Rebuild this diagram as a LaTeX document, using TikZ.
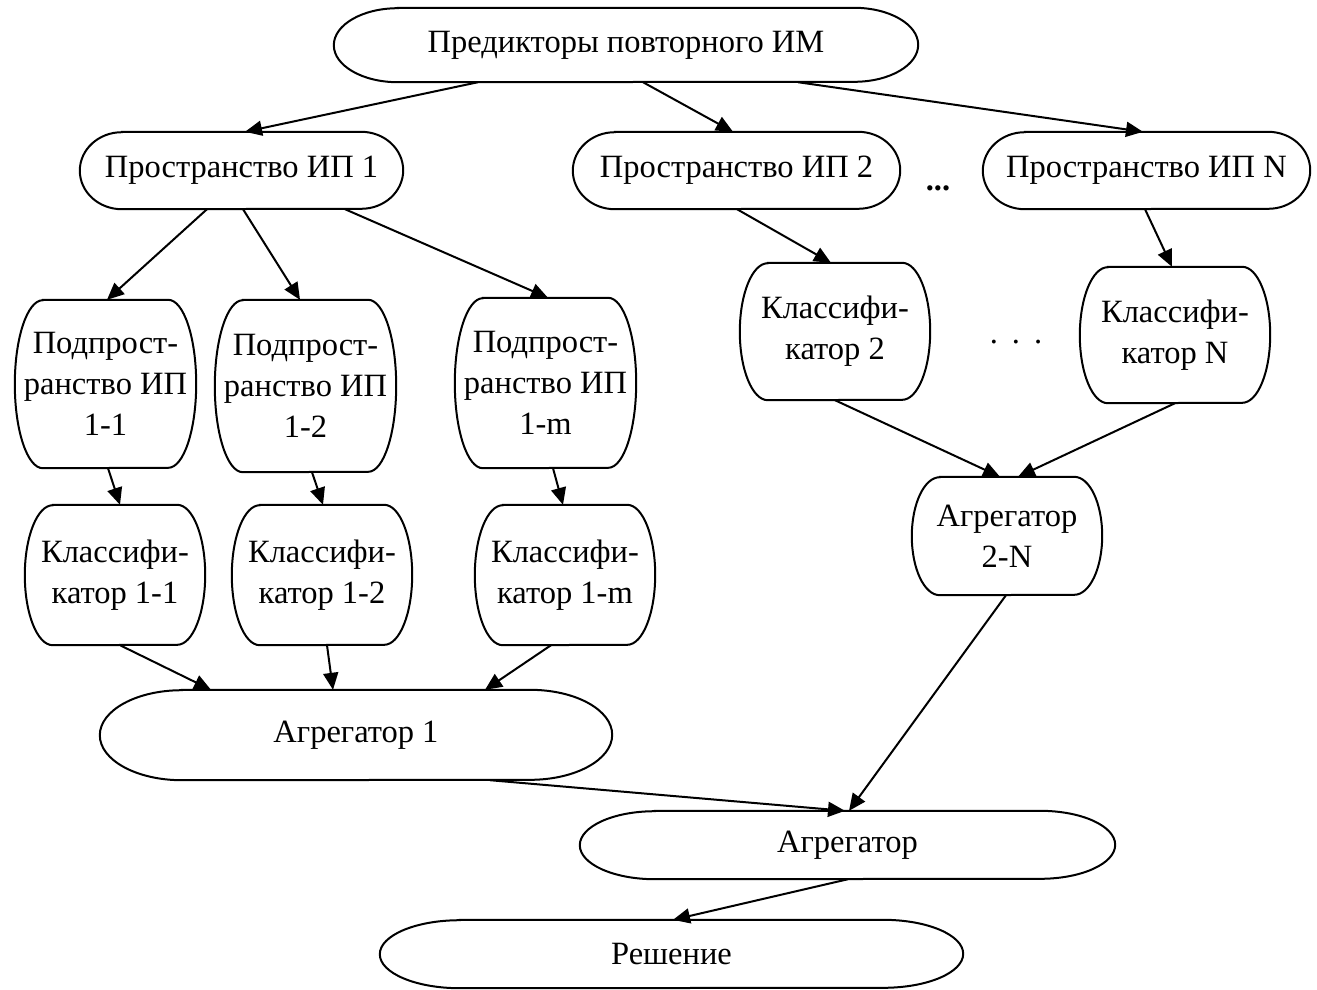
\documentclass[tikz,border=0pt]{standalone}
\usepackage{fontspec}
\setmainfont{Liberation Serif}
\usetikzlibrary{arrows.meta}
\tikzset{
  lbl/.style={inner sep=0pt, align=center, font=\fontsize{32.5}{41}\selectfont},
  outline/.style={line width=2pt, black},
  arr/.style={line width=2pt, -{Triangle[length=17pt,width=15pt]}},
}
\newcommand\tbox[7]{%
  \node[lbl, minimum width=#4pt, minimum height=#5pt] (#1) at (#2,#3) {#7};
  \draw[outline] ([xshift=#6pt]#1.north west) -- ([xshift=-#6pt]#1.north east)
    arc[start angle=90,end angle=-90,x radius=#6pt,y radius=#5pt/2]
    -- ([xshift=#6pt]#1.south west)
    arc[start angle=270,end angle=90,x radius=#6pt,y radius=#5pt/2] -- cycle;
}
\newcommand\conn[4]{\draw[arr] ([xshift=#2pt]#1.south) -- ([xshift=#4pt]#3.north);}
\begin{document}
\begin{tikzpicture}[x=1pt,y=-1pt]
\useasboundingbox (0,0) rectangle (1317,989);
\tbox{top}{626}{45}{584}{74}{64}{Предикторы повторного ИМ}
\tbox{ipa}{241.5}{170.5}{323}{77}{42}{Пространство ИП 1}
\tbox{ipb}{736.5}{170.5}{327}{77}{42}{Пространство ИП 2}
\tbox{ipn}{1146.5}{170.5}{327}{77}{42}{Пространство ИП N}
\tbox{paa}{105.5}{384}{181}{168}{28}{Подпрост-\\ранство ИП\\1-1}
\tbox{pab}{305.5}{386}{181}{172}{28}{Подпрост-\\ранство ИП\\1-2}
\tbox{pam}{545.5}{383}{181}{170}{28}{Подпрост-\\ранство ИП\\1-m}
\tbox{kaa}{115}{575}{180}{140}{28}{Классифи-\\катор 1-1}
\tbox{kab}{322}{575}{180}{140}{28}{Классифи-\\катор 1-2}
\tbox{kam}{565}{575}{180}{140}{28}{Классифи-\\катор 1-m}
\tbox{kb}{835}{331.5}{190}{137}{28}{Классифи-\\катор 2}
\tbox{kn}{1175}{335}{190}{136}{28}{Классифи-\\катор N}
\tbox{abn}{1007}{536}{190}{118}{28}{Агрегатор\\2-N}
\tbox{aa}{356}{735}{512}{90}{82}{Агрегатор 1}
\tbox{agg}{847.5}{845}{535}{68}{75}{Агрегатор}
\tbox{res}{671.5}{954}{583}{68}{80}{Решение}
\node[lbl, font=\fontsize{32.5}{41}\selectfont\bfseries] (dotsa) at (938,188) {...};
\node[lbl] (dotsb) at (1016,342) {.\hspace{14pt}.\hspace{14pt}.};
\conn{top}{-148}{ipa}{3.5}
\conn{top}{17}{ipb}{-3.5}
\conn{top}{172}{ipn}{-3.5}
\conn{ipa}{-34.5}{paa}{1.5}
\conn{ipa}{1.5}{pab}{-5.5}
\conn{ipa}{103.5}{pam}{2.5}
\conn{ipb}{0.5}{kb}{-4}
\conn{ipn}{-1.5}{kn}{-3}
\conn{paa}{2.5}{kaa}{5}
\conn{pab}{6.5}{kab}{1}
\conn{pam}{7.5}{kam}{-2}
\conn{kb}{0}{abn}{-7}
\conn{kn}{0}{abn}{11}
\conn{kaa}{5}{aa}{-145}
\conn{kab}{5}{aa}{-23}
\conn{kam}{-14}{aa}{129}
\conn{abn}{-1}{agg}{1.5}
\conn{aa}{134}{agg}{-2.5}
\conn{agg}{0.5}{res}{1.5}
\end{tikzpicture}
\end{document}
